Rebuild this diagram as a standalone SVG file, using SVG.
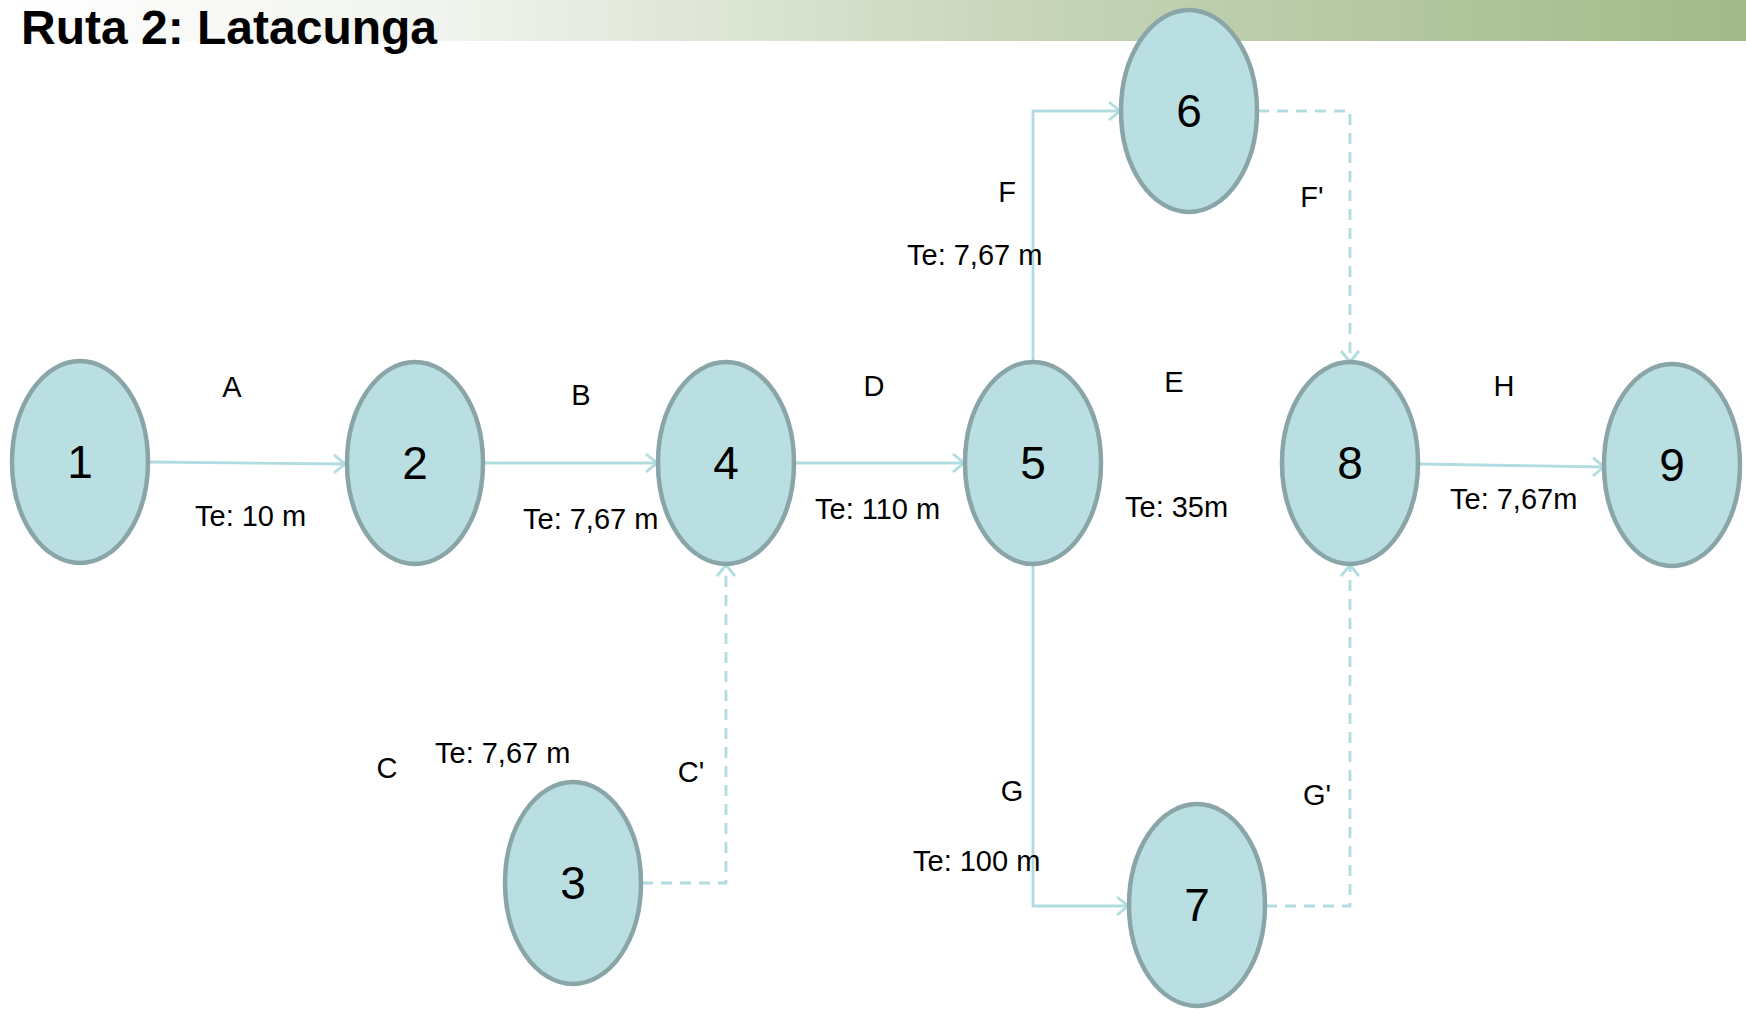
<svg xmlns="http://www.w3.org/2000/svg" width="1746" height="1010" viewBox="0 0 1746 1010">
<defs>
<linearGradient id="bar" x1="0" y1="0" x2="1" y2="0">
<stop offset="0" stop-color="#ffffff"/>
<stop offset="0.25" stop-color="#f1f4ee"/>
<stop offset="0.6" stop-color="#c6d4b8"/>
<stop offset="1" stop-color="#a1ba88"/>
</linearGradient>
<marker id="arr" markerUnits="userSpaceOnUse" markerWidth="24" markerHeight="24" viewBox="0 0 24 24" refX="21" refY="12" orient="auto">
<path d="M10,3 L21,12 L10,21" fill="none" stroke="#b2dde0" stroke-width="2.8"/>
</marker>
<style>
.node ellipse{fill:#badfe2;stroke:#8aa5a8;stroke-width:4.5}
.node text{font-family:"Liberation Sans",Arial,sans-serif;font-size:46px;fill:#000;text-anchor:middle}
.c{fill:none;stroke:#b2dde0;stroke-width:2.8}
.d{stroke-dasharray:11,8}
.lbl{font-family:"Liberation Sans",Arial,sans-serif;font-size:29px;fill:#000}
.mid{text-anchor:middle}
</style>
</defs>
<rect width="1746" height="1010" fill="#ffffff"/>
<rect x="0" y="0" width="1746" height="41" fill="url(#bar)"/>
<text x="21" y="44" font-family="'Liberation Sans',Arial,sans-serif" font-weight="bold" font-size="48" fill="#000">Ruta 2: Latacunga</text>

<g id="connectors">
<path class="c" d="M150,462 L345,464" marker-end="url(#arr)"/>
<path class="c" d="M484,463 L657,463" marker-end="url(#arr)"/>
<path class="c" d="M795,463 L964,463" marker-end="url(#arr)"/>
<path class="c" d="M1033,362 L1033,111 L1120,111" marker-end="url(#arr)"/>
<path class="c d" d="M1258,111 L1350,111 L1350,362" marker-end="url(#arr)"/>
<path class="c" d="M1033,565 L1033,906 L1128,906" marker-end="url(#arr)"/>
<path class="c d" d="M1266,906 L1350,906 L1350,565" marker-end="url(#arr)"/>
<path class="c d" d="M642,883 L726,883 L726,565" marker-end="url(#arr)"/>
<path class="c" d="M1419,464 L1604,467" marker-end="url(#arr)"/>
</g>

<g id="node1" class="node"><ellipse cx="80" cy="462" rx="68" ry="101"/><text x="80" y="478">1</text></g>
<g id="node2" class="node"><ellipse cx="415" cy="463" rx="68" ry="101"/><text x="415" y="479">2</text></g>
<g id="node3" class="node"><ellipse cx="573" cy="883" rx="68" ry="101"/><text x="573" y="899">3</text></g>
<g id="node4" class="node"><ellipse cx="726" cy="463" rx="68" ry="101"/><text x="726" y="479">4</text></g>
<g id="node5" class="node"><ellipse cx="1033" cy="463" rx="68" ry="101"/><text x="1033" y="479">5</text></g>
<g id="node6" class="node"><ellipse cx="1189" cy="111" rx="68" ry="101"/><text x="1189" y="127">6</text></g>
<g id="node7" class="node"><ellipse cx="1197" cy="905" rx="68" ry="101"/><text x="1197" y="921">7</text></g>
<g id="node8" class="node"><ellipse cx="1350" cy="463" rx="68" ry="101"/><text x="1350" y="479">8</text></g>
<g id="node9" class="node"><ellipse cx="1672" cy="465" rx="68" ry="101"/><text x="1672" y="481">9</text></g>

<g id="labels">
<text class="lbl mid" x="232" y="397">A</text>
<text class="lbl" x="195" y="526">Te: 10 m</text>
<text class="lbl mid" x="581" y="405">B</text>
<text class="lbl" x="523" y="529">Te: 7,67 m</text>
<text class="lbl mid" x="874" y="396">D</text>
<text class="lbl" x="815" y="519">Te: 110 m</text>
<text class="lbl mid" x="1174" y="392">E</text>
<text class="lbl" x="1125" y="517">Te: 35m</text>
<text class="lbl mid" x="1504" y="396">H</text>
<text class="lbl" x="1450" y="509">Te: 7,67m</text>
<text class="lbl mid" x="1007" y="202">F</text>
<text class="lbl" x="907" y="265">Te: 7,67 m</text>
<text class="lbl mid" x="1312" y="207">F'</text>
<text class="lbl mid" x="387" y="778">C</text>
<text class="lbl" x="435" y="763">Te: 7,67 m</text>
<text class="lbl mid" x="691" y="782">C'</text>
<text class="lbl mid" x="1012" y="801">G</text>
<text class="lbl" x="913" y="871">Te: 100 m</text>
<text class="lbl mid" x="1317" y="805">G'</text>
</g>
</svg>
